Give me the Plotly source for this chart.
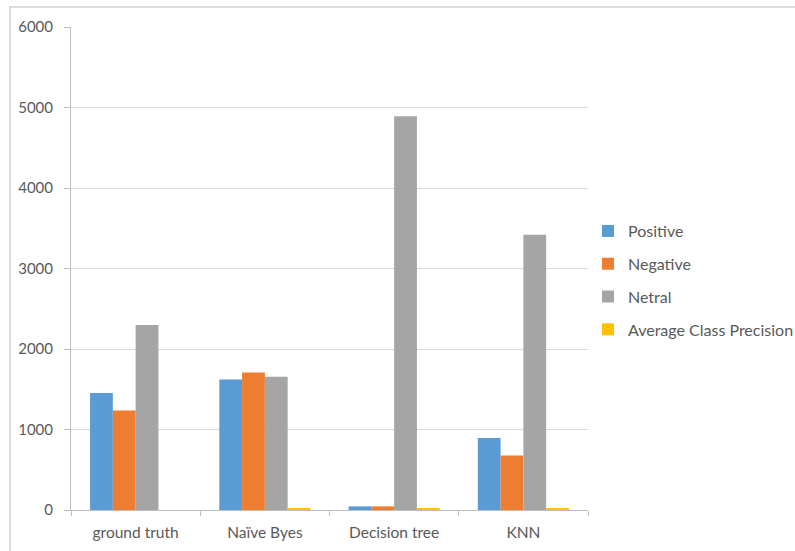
import plotly.graph_objects as go

# Classifier comparison data
categories = ["ground truth", "Naïve Byes", "Decision tree", "KNN"]
positive = [1452, 1621, 45, 895]
negative = [1237, 1707, 45, 676]
netral = [2297, 1654, 4890, 3420]
avg_class_precision = [0, 14, 14, 14]

series = [
    ("Positive", positive, "#5B9BD5"),
    ("Negative", negative, "#ED7D31"),
    ("Netral", netral, "#A5A5A5"),
    ("Average Class Precision", avg_class_precision, "#FFC000"),
]

FONT = "Lato, Calibri, Carlito, sans-serif"
TEXT = "#595959"

fig = go.Figure()
for i, (name, vals, color) in enumerate(series):
    fig.add_trace(go.Bar(
        name=name, x=categories, y=vals,
        marker=dict(color=color, line=dict(width=0)),
        legendgroup=f"g{i}",
    ))

W, H = 795, 551
L, R, T, B = 71, 207, 27, 41
pw, ph = W - L - R, H - T - B

def px_x(p):
    return (p - L) / pw

def px_y(p):
    return (H - B - p) / ph

fig.update_layout(
    width=W, height=H,
    margin=dict(l=L, r=R, t=T, b=B, autoexpand=False),
    paper_bgcolor="white", plot_bgcolor="white",
    barmode="group", bargap=0.295, bargroupgap=0,
    font=dict(family=FONT, size=15, color=TEXT),
    legend=dict(
        x=px_x(588), y=px_y(214), xanchor="left", yanchor="top",
        font=dict(family=FONT, size=16, color=TEXT),
        tracegroupgap=9, itemwidth=30,
        bgcolor="rgba(0,0,0,0)",
    ),
    xaxis=dict(
        showline=True, linecolor="#bfbfbf", linewidth=1,
        ticks="outside", tickson="boundaries", ticklen=5, tickcolor="#bfbfbf",
        showgrid=False, tickfont=dict(size=15.5, color=TEXT),
        ticklabelstandoff=8,
    ),
    yaxis=dict(
        range=[0, 6000], dtick=1000, tickformat="d",
        showline=True, linecolor="#bfbfbf", linewidth=1,
        ticks="outside", ticklen=6, tickcolor="#bfbfbf",
        showgrid=True, gridcolor="#d9d9d9", gridwidth=1,
        zeroline=False, tickfont=dict(size=15, color=TEXT),
        ticklabelstandoff=8,
    ),
    shapes=[dict(
        type="rect", xref="paper", yref="paper",
        x0=px_x(10), x1=px_x(W + 20), y0=px_y(H + 20), y1=px_y(7),
        line=dict(color="#d0d0d0", width=1.5), fillcolor="rgba(0,0,0,0)",
        layer="below",
    )],
)

fig.write_html("out.html")
